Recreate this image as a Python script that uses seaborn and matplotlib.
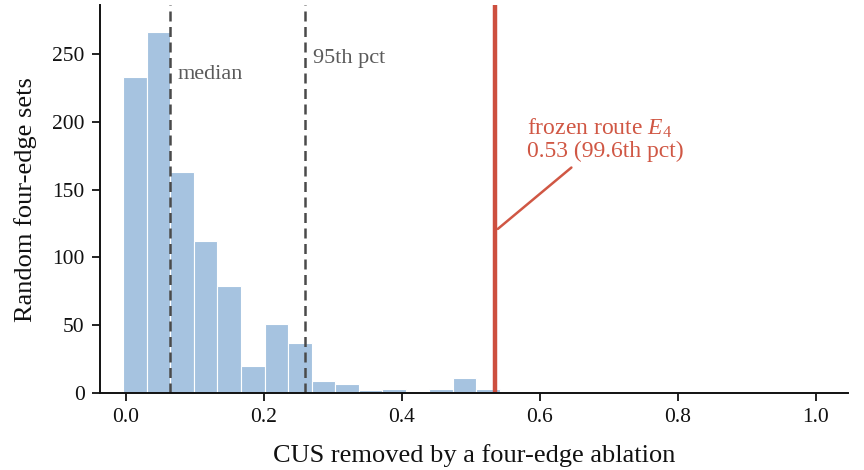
import numpy as np
import pandas as pd
import matplotlib
matplotlib.use("Agg")
import matplotlib.pyplot as plt
import seaborn as sns

# ---- data ----
bin_lo, bin_hi = -0.0039, 1.020
counts = [233, 266, 163, 112, 79, 20, 51, 37, 9, 7,
          2, 3, 0, 3, 11, 3, 1, 0, 1, 0,
          0, 0, 0, 0, 0, 0, 0, 0, 0, 1]
median_val = 0.064
p95_val = 0.260
frozen_val = 0.535
frozen_label = "frozen route $E_4$\n0.53 (99.6th pct)"
x_ticks = [0.0, 0.2, 0.4, 0.6, 0.8, 1.0]
y_ticks = [0, 50, 100, 150, 200, 250]

sns.set_theme(style="ticks")
plt.rcParams["font.family"] = ["Liberation Serif", "DejaVu Serif"]
plt.rcParams["mathtext.fontset"] = "custom"
plt.rcParams["mathtext.rm"] = "Liberation Serif"
plt.rcParams["mathtext.it"] = "Liberation Serif:italic"

edges = np.linspace(bin_lo, bin_hi, len(counts) + 1)
centers = (edges[:-1] + edges[1:]) / 2
df = pd.DataFrame({"cus": centers, "n": counts})

fig = plt.figure(figsize=(8.64, 4.70), dpi=100)
ax = fig.add_axes([0.1157, 0.1638, 0.8653, 0.8252])

sns.histplot(data=df, x="cus", weights="n", bins=len(counts),
             binrange=(bin_lo, bin_hi), ax=ax,
             color="#a6c3e0", edgecolor="white", linewidth=0.8, alpha=1.0)

ax.axvline(median_val, color="#4a4a4a", lw=1.8, ls=(0, (4, 2.2)))
ax.axvline(p95_val, color="#4a4a4a", lw=1.8, ls=(0, (4, 2.2)))
ax.axvline(frozen_val, color="#cd4f3f", lw=3.2)

ax.text(median_val + 0.011, 235, "median", color="#5a5a5a", fontsize=16,
        ha="left", va="center")
ax.text(p95_val + 0.011, 247, "95th pct", color="#5a5a5a", fontsize=16,
        ha="left", va="center")
ax.annotate(frozen_label, xy=(0.539, 121), xytext=(0.581, 187),
            color="#d05744", fontsize=17, ha="left", va="center",
            linespacing=1.1,
            arrowprops=dict(arrowstyle="-", color="#d05744", lw=1.8,
                            shrinkA=2, shrinkB=0))

ax.set_xlim(-0.0377, 1.046)
ax.set_ylim(0, 286)
ax.set_xticks(x_ticks)
ax.set_yticks(y_ticks)
ax.set_xlabel("CUS removed by a four-edge ablation", fontsize=19,
              color="#111111", labelpad=12)
ax.set_ylabel("Random four-edge sets", fontsize=19, color="#111111",
              labelpad=11)
ax.tick_params(labelsize=15.5, length=6, width=1.3, colors="#111111", pad=5)
for s in ["left", "bottom"]:
    ax.spines[s].set_linewidth(1.4)
    ax.spines[s].set_color("#111111")
sns.despine(ax=ax)

fig.savefig("out.png", dpi=100)
